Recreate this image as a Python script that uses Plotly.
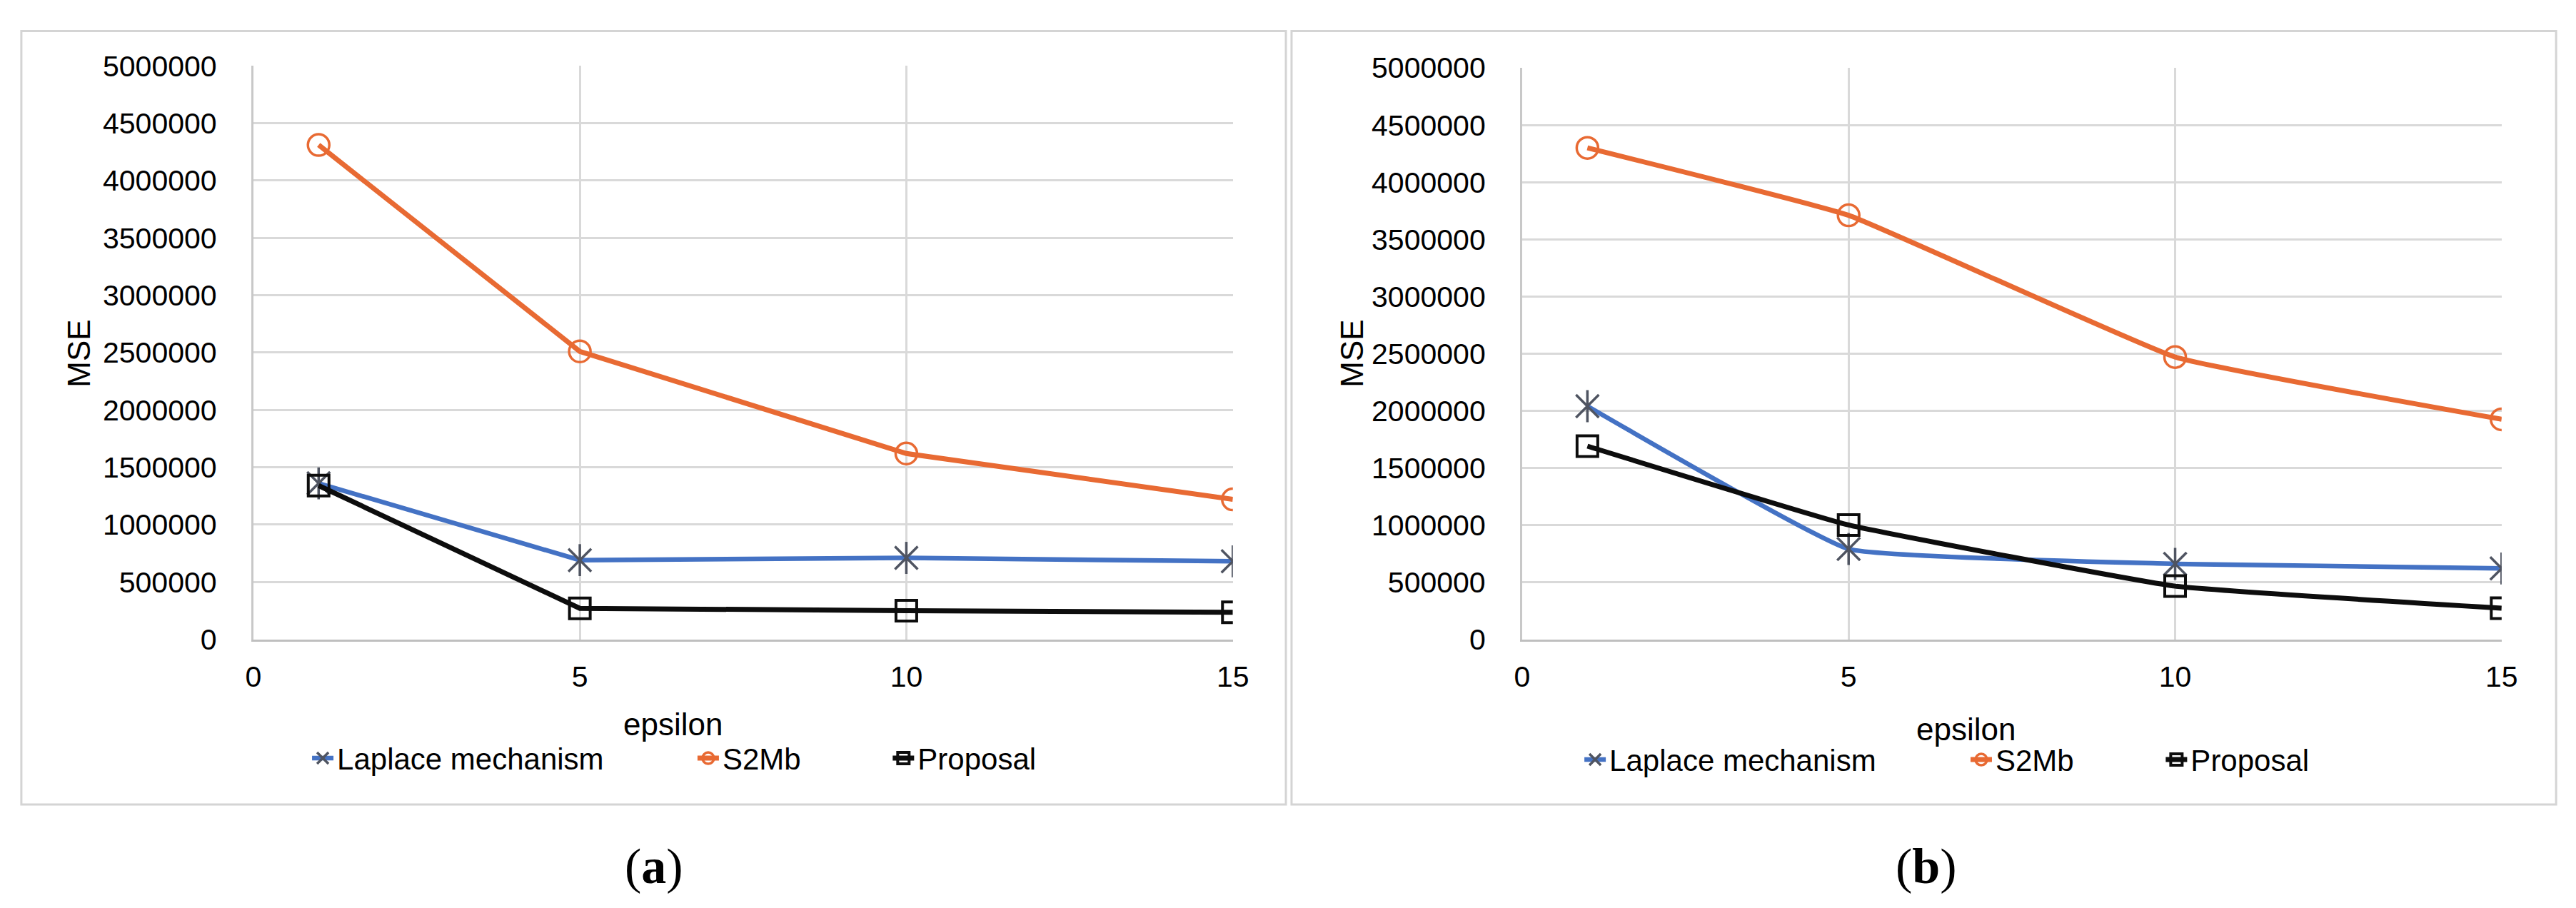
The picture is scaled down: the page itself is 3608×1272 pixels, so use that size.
import plotly.graph_objects as go

# ---------------- data ----------------
epsilon = [1, 5, 10, 15]
series_names = ["Laplace mechanism", "S2Mb", "Proposal"]

laplace_a = [1360000, 690000, 710000, 680000]
s2mb_a = [4310000, 2510000, 1620000, 1220000]
proposal_a = [1340000, 270000, 250000, 235000]

laplace_b = [2040000, 790000, 660000, 620000]
s2mb_b = [4300000, 3710000, 2470000, 1925000]
proposal_b = [1690000, 1000000, 465000, 272000]

x_ticks = [0, 5, 10, 15]
y_ticks = [0, 500000, 1000000, 1500000, 2000000, 2500000,
           3000000, 3500000, 4000000, 4500000, 5000000]
x_title = "epsilon"
y_title = "MSE"
captions = ["(<b>a</b>)", "(<b>b</b>)"]

# ---------------- style ----------------
W, H = 3608, 1272
def px(x):
    return x / W
def py(y):
    return 1 - y / H

BLUE = "#4472C4"
ORANGE = "#E86A33"
BLACK = "#0D0D0D"
STAR = "#4F5461"
GRID = "#D9D9D9"
FONT = "Liberation Sans"

fig = go.Figure()

panels = [
    dict(lap=laplace_a, s2=s2mb_a, pr=proposal_a, xa="x", ya="y",
         legs=["legend", "legend2", "legend3"], shape="linear"),
    dict(lap=laplace_b, s2=s2mb_b, pr=proposal_b, xa="x2", ya="y2",
         legs=["legend4", "legend5", "legend6"], shape="spline"),
]

SMOOTH = 0.3
for p in panels:
    fig.add_trace(go.Scatter(
        x=epsilon, y=p["lap"], name=series_names[0], mode="lines+markers",
        line=dict(color=BLUE, width=6.5, shape=p["shape"], smoothing=SMOOTH),
        marker=dict(symbol="x-thin-open", size=32, line=dict(color=STAR, width=3.5), color=STAR),
        xaxis=p["xa"], yaxis=p["ya"], legend=p["legs"][0]))
    fig.add_trace(go.Scatter(
        x=epsilon, y=p["lap"], mode="markers", showlegend=False, hoverinfo="skip",
        marker=dict(symbol="line-ns-open", size=32, line=dict(color=STAR, width=3.5), color=STAR),
        xaxis=p["xa"], yaxis=p["ya"]))
    fig.add_trace(go.Scatter(
        x=epsilon, y=p["s2"], name=series_names[1], mode="lines+markers",
        line=dict(color=ORANGE, width=7, shape=p["shape"], smoothing=SMOOTH),
        marker=dict(symbol="circle-open", size=30, line=dict(color=ORANGE, width=3.5), color=ORANGE),
        xaxis=p["xa"], yaxis=p["ya"], legend=p["legs"][1]))
    fig.add_trace(go.Scatter(
        x=epsilon, y=p["pr"], name=series_names[2], mode="lines+markers",
        line=dict(color=BLACK, width=7, shape=p["shape"], smoothing=SMOOTH),
        marker=dict(symbol="square-open", size=29, line=dict(color=BLACK, width=4), color=BLACK),
        xaxis=p["xa"], yaxis=p["ya"], legend=p["legs"][2]))

xaxis_common = dict(
    range=[0, 15], tickvals=x_ticks, ticktext=[str(v) for v in x_ticks],
    showgrid=True, gridcolor=GRID, gridwidth=3,
    showline=True, linecolor="#BFBFBF", linewidth=3,
    zeroline=False, ticks="", ticklabelstandoff=14,
    tickfont=dict(family=FONT, size=41, color="#000000"),
)
yaxis_common = dict(
    range=[0, 5000000], tickvals=y_ticks, ticktext=[str(v) for v in y_ticks],
    showgrid=True, gridcolor=GRID, gridwidth=3,
    showline=True, linecolor="#C8C8C8", linewidth=3,
    zeroline=False, ticks="", ticklabelstandoff=40,
    tickfont=dict(family=FONT, size=41, color="#000000"),
)

legend_common = dict(
    orientation="h", font=dict(family=FONT, size=42, color="#000000"),
    bgcolor="rgba(0,0,0,0)", xanchor="left", yanchor="middle",
)

# legend text start positions (px) for each item
leg_text_x = [467, 1012, 1288, 2266, 2812, 3088]
leg_y = [1070, 1070, 1070, 1072, 1072, 1072]
legend_layouts = {}
for i, (lx, ly) in enumerate(zip(leg_text_x, leg_y)):
    key = "legend" if i == 0 else f"legend{i + 1}"
    legend_layouts[key] = dict(x=px(lx - 50), y=py(ly), **legend_common)

fig.update_layout(
    width=W, height=H, margin=dict(l=0, r=0, t=0, b=0),
    paper_bgcolor="white", plot_bgcolor="white",
    xaxis=dict(domain=[px(339), px(1724)], anchor="y", **xaxis_common),
    yaxis=dict(domain=[py(897), py(63.5)], anchor="x", **yaxis_common),
    xaxis2=dict(domain=[px(2133), px(3518)], anchor="y2", **xaxis_common),
    yaxis2=dict(domain=[py(897), py(66.5)], anchor="x2", **yaxis_common),
    showlegend=True,
    **legend_layouts,
)

# panel borders
for x0, x1 in [(11, 1799), (1807, 3595)]:
    fig.add_shape(type="rect", xref="paper", yref="paper",
                  x0=px(x0), x1=px(x1), y0=py(1137), y1=py(13),
                  line=dict(color="#D4D4D4", width=3), fillcolor="rgba(0,0,0,0)", layer="below")

# axis titles
for xt, yt, xm in [(932, 1020, 92), (2761, 1028, 1892)]:
    fig.add_annotation(text=x_title, xref="paper", yref="paper", x=px(xt), y=py(yt),
                       showarrow=False, xanchor="center", yanchor="middle",
                       font=dict(family=FONT, size=44, color="#000000"))
    fig.add_annotation(text=y_title, xref="paper", yref="paper", x=px(xm), y=py(482),
                       showarrow=False, xanchor="center", yanchor="middle", textangle=-90,
                       font=dict(family=FONT, size=44, color="#000000"))

# captions
for cap, xc in zip(captions, [906, 2704]):
    fig.add_annotation(text=cap, xref="paper", yref="paper", x=px(xc), y=py(1227),
                       showarrow=False, xanchor="center", yanchor="middle",
                       font=dict(family="Liberation Serif", size=70, color="#000000"))

fig.write_html("out.html")
